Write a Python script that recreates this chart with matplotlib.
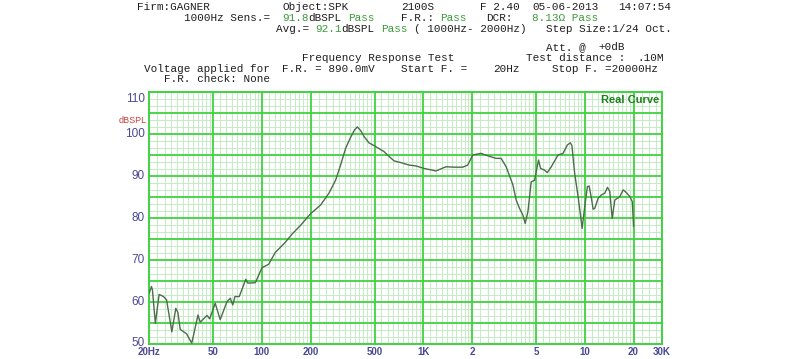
import re
import numpy as np
import matplotlib
matplotlib.use("Agg")
import matplotlib.pyplot as plt
import matplotlib.transforms as mtransforms
from matplotlib.ticker import FixedLocator, NullFormatter

# ---------------- data ----------------
freq_hz = [20.1, 20.7, 21.0, 21.9, 23.1, 24.6, 25.7, 27.7, 29.3, 30.2, 31.2, 34.2, 36.8,
           40.2, 41.5, 45.7, 47.5, 51.4, 55.2, 60.8, 63.7, 66.0, 68.1, 72.4, 79.5, 81.8,
           91.1, 100.2, 106.6, 110.2, 121, 138, 154, 173, 200, 231, 260, 286, 307, 330,
           354, 375, 390, 409, 429, 460, 507, 571, 599, 658, 724, 816, 898, 1011, 1195,
           1379, 1553, 1751, 1881, 2020, 2274, 2504, 2818, 3027, 3252, 3580, 3752, 3934,
           4128, 4267, 4436, 4650, 4876, 5162, 5312, 5624, 5846, 6190, 6814, 7320, 7784,
           8124, 8300, 8640, 9070, 9414, 9604, 9968, 10360, 10614, 10970, 11240, 11500,
           12072, 12654, 13264, 13790, 14252, 14750, 15310, 15910, 16442, 17260, 18096,
           18970, 19630, 19850, 20000]
spl_db = [62.2, 63.7, 62.9, 54.9, 61.8, 61.3, 60.5, 52.9, 58.5, 57.5, 53.5, 52.4, 50.2,
          56.9, 55.2, 56.8, 56.0, 59.7, 55.8, 60.1, 60.9, 59.3, 61.3, 61.3, 65.4, 64.5,
          64.6, 68.2, 68.7, 69.0, 71.8, 74.0, 76.2, 78.2, 81.0, 83.1, 85.9, 89.0, 92.6, 96.6,
          99.2, 101.0, 101.7, 100.8, 99.4, 97.9, 97.0, 95.8, 95.0, 93.6, 93.2, 92.6, 92.4,
          91.8, 91.2, 92.2, 92.1, 92.1, 92.6, 95.0, 95.4, 94.8, 94.2, 94.2, 92.2, 87.9, 84.3,
          82.3, 80.7, 78.7, 81.5, 88.6, 89.0, 93.8, 91.8, 91.4, 90.8, 92.2, 95.0, 95.4, 97.4,
          97.9, 97.3, 90.6, 85.1, 80.3, 77.5, 82.7, 87.5, 87.6, 84.7, 82.1, 82.3,
          84.7, 85.5, 85.9, 87.3, 86.3, 79.9, 84.3, 84.7, 85.1, 86.7, 86.0,
          85.1, 83.9, 80.5, 78.0]

x_tick_values = [20, 50, 100, 200, 500, 1000, 2000, 5000, 10000, 20000, 30000]
x_tick_labels = ["20Hz", "50", "100", "200", "500", "1K", "2", "5", "10", "20", "30K"]
y_tick_values = [50, 60, 70, 80, 90, 100, 110]

# header lines: list of (text, colour key) segments, monospaced
header_lines = [
    [("Firm:GAGNER           Object:SPK        2100S       F 2.40  05-06-2013   14:07:54", "k")],
    [("       1000Hz Sens.=  ", "k"), ("91.8", "g"), ("dBSPL ", "k"), ("Pass", "g"),
     ("    F.R.: ", "k"), ("Pass", "g"), ("   DCR:   ", "k"), ("8.13\u03a9 Pass", "g")],
    [("                     Avg.= ", "k"), ("92.1", "g"), ("dBSPL ", "k"), ("Pass", "g"),
     (" ( 1000Hz- 2000Hz)   Step Size:1/24 Oct.", "k")],
    [("                                                              Att. @  +0dB", "k")],
    [("                         Frequency Response Test           Test distance :  .10M", "k")],
    [(" Voltage applied for  F.R. = 890.0mV    Start F. =    20Hz     Stop F. =20000Hz", "k")],
    [("    F.R. check: None", "k")],
]
header_y = [7, 18, 29, 47, 58, 69, 79]

# ---------------- figure ----------------
W, H = 800, 359
fig = plt.figure(figsize=(W / 100, H / 100), dpi=100)
fig.patch.set_facecolor("white")

left, right, top, bottom = 149, 662, 92, 344
ax = fig.add_axes([left / W, 1 - bottom / H, (right - left) / W, (bottom - top) / H])
ax.set_xscale("log")
ax.set_xlim(20, 30000)
ax.set_ylim(50, 110)

major_green = "#3fd23f"
minor_green = "#c4ecc4"

# minor vertical grid
minor_x = []
for dec in [10, 100, 1000, 10000]:
    for m in np.arange(1.1, 1.95, 0.1):
        minor_x.append(m * dec)
    for m in np.arange(2.25, 4.9, 0.25):
        minor_x.append(m * dec)
    for m in np.arange(5.5, 9.9, 0.5):
        minor_x.append(m * dec)
minor_x = [v for v in minor_x if 20 < v < 30000]
for v in minor_x:
    ax.axvline(v, color=minor_green, lw=0.7, zorder=1)
# minor horizontal grid
for base in range(50, 110, 5):
    for k in (1, 2):
        ax.axhline(base + k * 5 / 3, color=minor_green, lw=0.7, zorder=1)
# major grid
for v in x_tick_values[1:-1]:
    ax.axvline(v, color=major_green, lw=1.3, zorder=2)
for v in range(55, 110, 5):
    ax.axhline(v, color=major_green, lw=1.3, zorder=2)

for s in ax.spines.values():
    s.set_color(major_green)
    s.set_linewidth(1.4)

ax.plot(freq_hz, spl_db, color="#4d6b4d", lw=1.0, zorder=5)

ax.xaxis.set_major_locator(FixedLocator(x_tick_values))
ax.set_xticklabels(x_tick_labels)
ax.xaxis.set_minor_locator(FixedLocator([]))
ax.xaxis.set_minor_formatter(NullFormatter())
ax.set_yticks(y_tick_values)
ax.set_yticklabels([str(v) for v in y_tick_values])
ax.tick_params(axis="both", length=0)
ax.tick_params(axis="y", pad=3, labelsize=8.5, labelcolor="#4a4a94")
ax.tick_params(axis="x", pad=2.5, labelsize=7, labelcolor="#4a4a94")
for lab in ax.get_xticklabels():
    lab.set_fontweight("bold")
    lab.set_fontfamily("Liberation Sans")
# labels sit slightly above their lines; the top one is kept inside the frame
shifts_px = {50: 2.5, 60: 1.5, 70: 1.5, 80: 1.5, 90: 1.5, 100: 1.5, 110: -6.0}
for val, lab in zip(y_tick_values, ax.get_yticklabels()):
    lab.set_fontfamily("Liberation Sans")
    off = mtransforms.ScaledTranslation(0, shifts_px[val] / 100, fig.dpi_scale_trans)
    lab.set_transform(lab.get_transform() + off)

ax.text(-0.004, 103.3, "dBSPL", transform=ax.get_yaxis_transform(), ha="right",
        va="center", fontsize=6.5, color="#d03a3a", family="Liberation Sans")
ax.text(0.995, 0.968, "Real Curve", transform=ax.transAxes, ha="right", va="center",
        fontsize=8, fontweight="bold", color="#1f7f1f", family="Liberation Sans", zorder=6)

colors = {"k": "#1e1e1e", "g": "#3a9a3a"}
base_x = 137.5
fsize = 7.9
char_w = fsize / 72 * 100 * 0.6   # monospace advance in pixels
for segs, y in zip(header_lines, header_y):
    pos = 0
    for text, key in segs:
        # split each coloured run into word groups separated by 2+ spaces
        for m in re.finditer(r"\S+(?: \S+)*", text):
            x = base_x + (pos + m.start()) * char_w
            fig.text(x / W, 1 - y / H, m.group(0), ha="left", va="center",
                     fontsize=fsize, family="Liberation Mono", color=colors[key])
        pos += len(text)

fig.savefig("out.png", dpi=100, facecolor="white")
